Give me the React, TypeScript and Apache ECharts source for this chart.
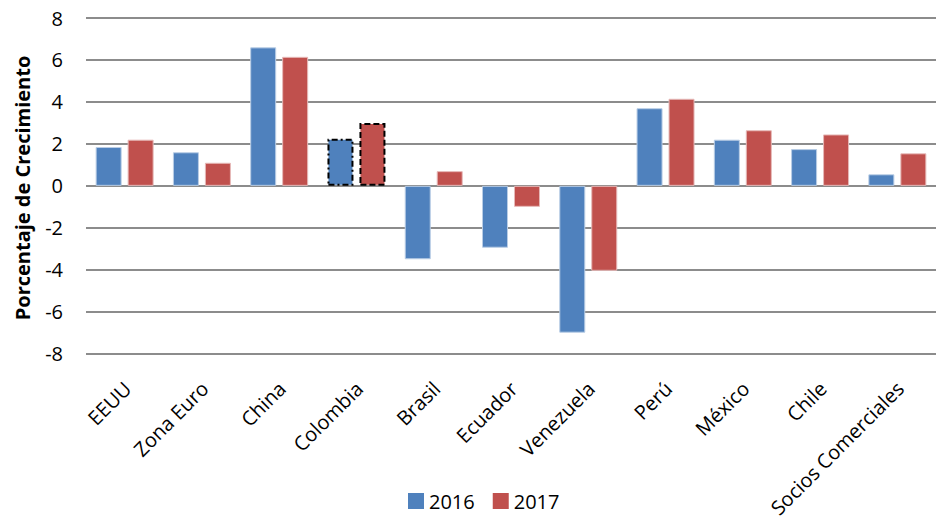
import React, { useEffect, useRef } from "react";
import * as echarts from "echarts";

const categories = ["EEUU", "Zona Euro", "China", "Colombia", "Brasil", "Ecuador", "Venezuela", "Perú", "México", "Chile", "Socios Comerciales"];
const values2016 = [1.85, 1.6, 6.6, 2.25, -3.5, -2.95, -7.0, 3.7, 2.2, 1.75, 0.55];
const values2017 = [2.2, 1.1, 6.15, 3.0, 0.7, -1.0, -4.05, 4.15, 2.65, 2.45, 1.55];
const yTicks = { min: -8, max: 8, interval: 2 };
const highlightIndex = 3;

const FONT = "'Open Sans', sans-serif";
const BLUE = "#4F81BD";
const RED = "#C0504D";

export default function App() {
  const ref = useRef<HTMLDivElement>(null);
  useEffect(() => {
    if (!ref.current) return;
    const chart = echarts.init(ref.current, undefined, { renderer: "svg" });
    const mk = (vals: number[], color: string, border: string, dash: number[]) =>
      vals.map((v, i) =>
        i === highlightIndex
          ? { value: v, itemStyle: { color, borderColor: "#000", borderWidth: 2, borderType: dash } }
          : { value: v, itemStyle: { color, borderColor: border, borderWidth: 1 } }
      );
    chart.setOption({
      animation: false,
      textStyle: { fontFamily: FONT },
      grid: { left: 86, right: -5, top: 18, bottom: 170, containLabel: false },
      legend: {
        left: 403,
        top: 486,
        itemWidth: 16,
        itemHeight: 16,
        itemGap: 18,
        icon: "rect",
        textStyle: { fontSize: 20, color: "#000", fontFamily: FONT },
        data: ["2016", "2017"],
      },
      xAxis: {
        type: "category",
        data: categories,
        axisLine: { show: false, onZero: false },
        axisTick: { show: false },
        axisLabel: {
          rotate: 45,
          fontSize: 20,
          lineHeight: 30,
          color: "#000",
          margin: 13,
          padding: [0, 11, 0, 0],
          interval: 0,
          fontFamily: FONT,
          verticalAlign: "top",
        },
      },
      yAxis: {
        type: "value",
        min: yTicks.min,
        max: yTicks.max,
        interval: yTicks.interval,
        axisLine: { show: false },
        axisTick: { show: false },
        axisLabel: { fontSize: 20, color: "#000", margin: 23, fontFamily: FONT },
        splitLine: { lineStyle: { color: "#8C8C8C", width: 2 } },
      },
      graphic: [
        {
          type: "text",
          x: 22,
          y: 188,
          rotation: Math.PI / 2,
          style: {
            text: "Porcentaje de Crecimiento",
            fontSize: 20,
            fontWeight: "bold",
            fontFamily: FONT,
            fill: "#000",
            align: "center",
            verticalAlign: "middle",
          },
        },
      ],
      series: [
        {
          name: "2016",
          type: "bar",
          data: mk(values2016, BLUE, "#B9CDE5", [6, 3, 2, 3]),
          barWidth: 26,
          barGap: "23%",
          itemStyle: { color: BLUE },
        },
        {
          name: "2017",
          type: "bar",
          data: mk(values2017, RED, "#E6B9B8", [6, 3]),
          barWidth: 26,
          itemStyle: { color: RED },
        },
      ],
    });
    return () => chart.dispose();
  }, []);
  return <div ref={ref} style={{ width: 936, height: 524, position: "absolute", left: 0, top: 0 }} />;
}
